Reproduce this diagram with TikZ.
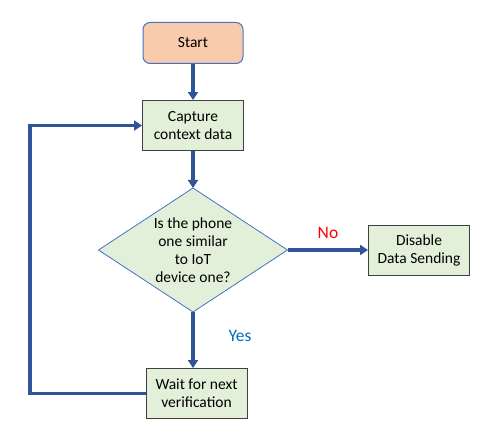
\documentclass[tikz,border=0pt]{standalone}
\usepackage{fontspec}
\setmainfont{Carlito}
\usetikzlibrary{shapes.geometric,arrows.meta}
\definecolor{arrowblue}{RGB}{47,85,151}
\definecolor{boxgreen}{RGB}{226,240,217}
\definecolor{startfill}{RGB}{248,203,173}
\definecolor{startedge}{RGB}{68,114,196}
\definecolor{boxedge}{RGB}{64,64,64}
\definecolor{yesblue}{RGB}{0,112,192}
\begin{document}
\begin{tikzpicture}[x=1pt,y=-1pt,
  every node/.style={font=\fontsize{15.5}{18}\selectfont, align=center},
  lbl/.style={font=\fontsize{17.5}{20}\selectfont},
  procbox/.style={rectangle, draw=boxedge, fill=boxgreen, line width=0.9pt, minimum width=101pt, minimum height=50pt, inner sep=0pt},
  startbox/.style={rectangle, rounded corners=7pt, draw=startedge, fill=startfill, line width=1pt, minimum width=100pt, minimum height=41pt, inner sep=0pt},
  decision/.style={diamond, draw=startedge, fill=boxgreen, line width=0.8pt, minimum width=189pt, minimum height=124pt, inner sep=0pt, outer sep=0pt},
  conn/.style={draw=arrowblue, line width=3.2pt, -{Triangle[width=10pt,length=8pt]}}
]
\useasboundingbox (0,0) rectangle (487,427);
\node[startbox] (start) at (193,43) {Start};
\node[procbox] (capture) at (193,125.5) {Capture\\context data};
\node[decision] (dec) at (193,250) {};
\node (dectext) at (dec.center) {Is the phone\\one similar\\to IoT\\device one?};
\node[procbox] (disable) at (419,250) {Disable\\Data Sending};
\node[procbox] (wait) at (196.5,393.5) {Wait for next\\verification};
\coordinate (lb) at (30,393.5);
\coordinate (lt) at (30,125.5);
\draw[conn] (start.south) -- (capture.north);
\draw[conn] (capture.south) -- (dec.north);
\draw[conn] (dec.east) -- (disable.west);
\node[lbl, text=red] (no) at (328,233) {No};
\draw[conn] (dec.south) -- (dec.south |- wait.north);
\node[lbl, text=yesblue] (yes) at (240,336) {Yes};
\draw[conn] (wait.west) -- (lb) -- (lt) -- (capture.west);
\end{tikzpicture}
\end{document}
